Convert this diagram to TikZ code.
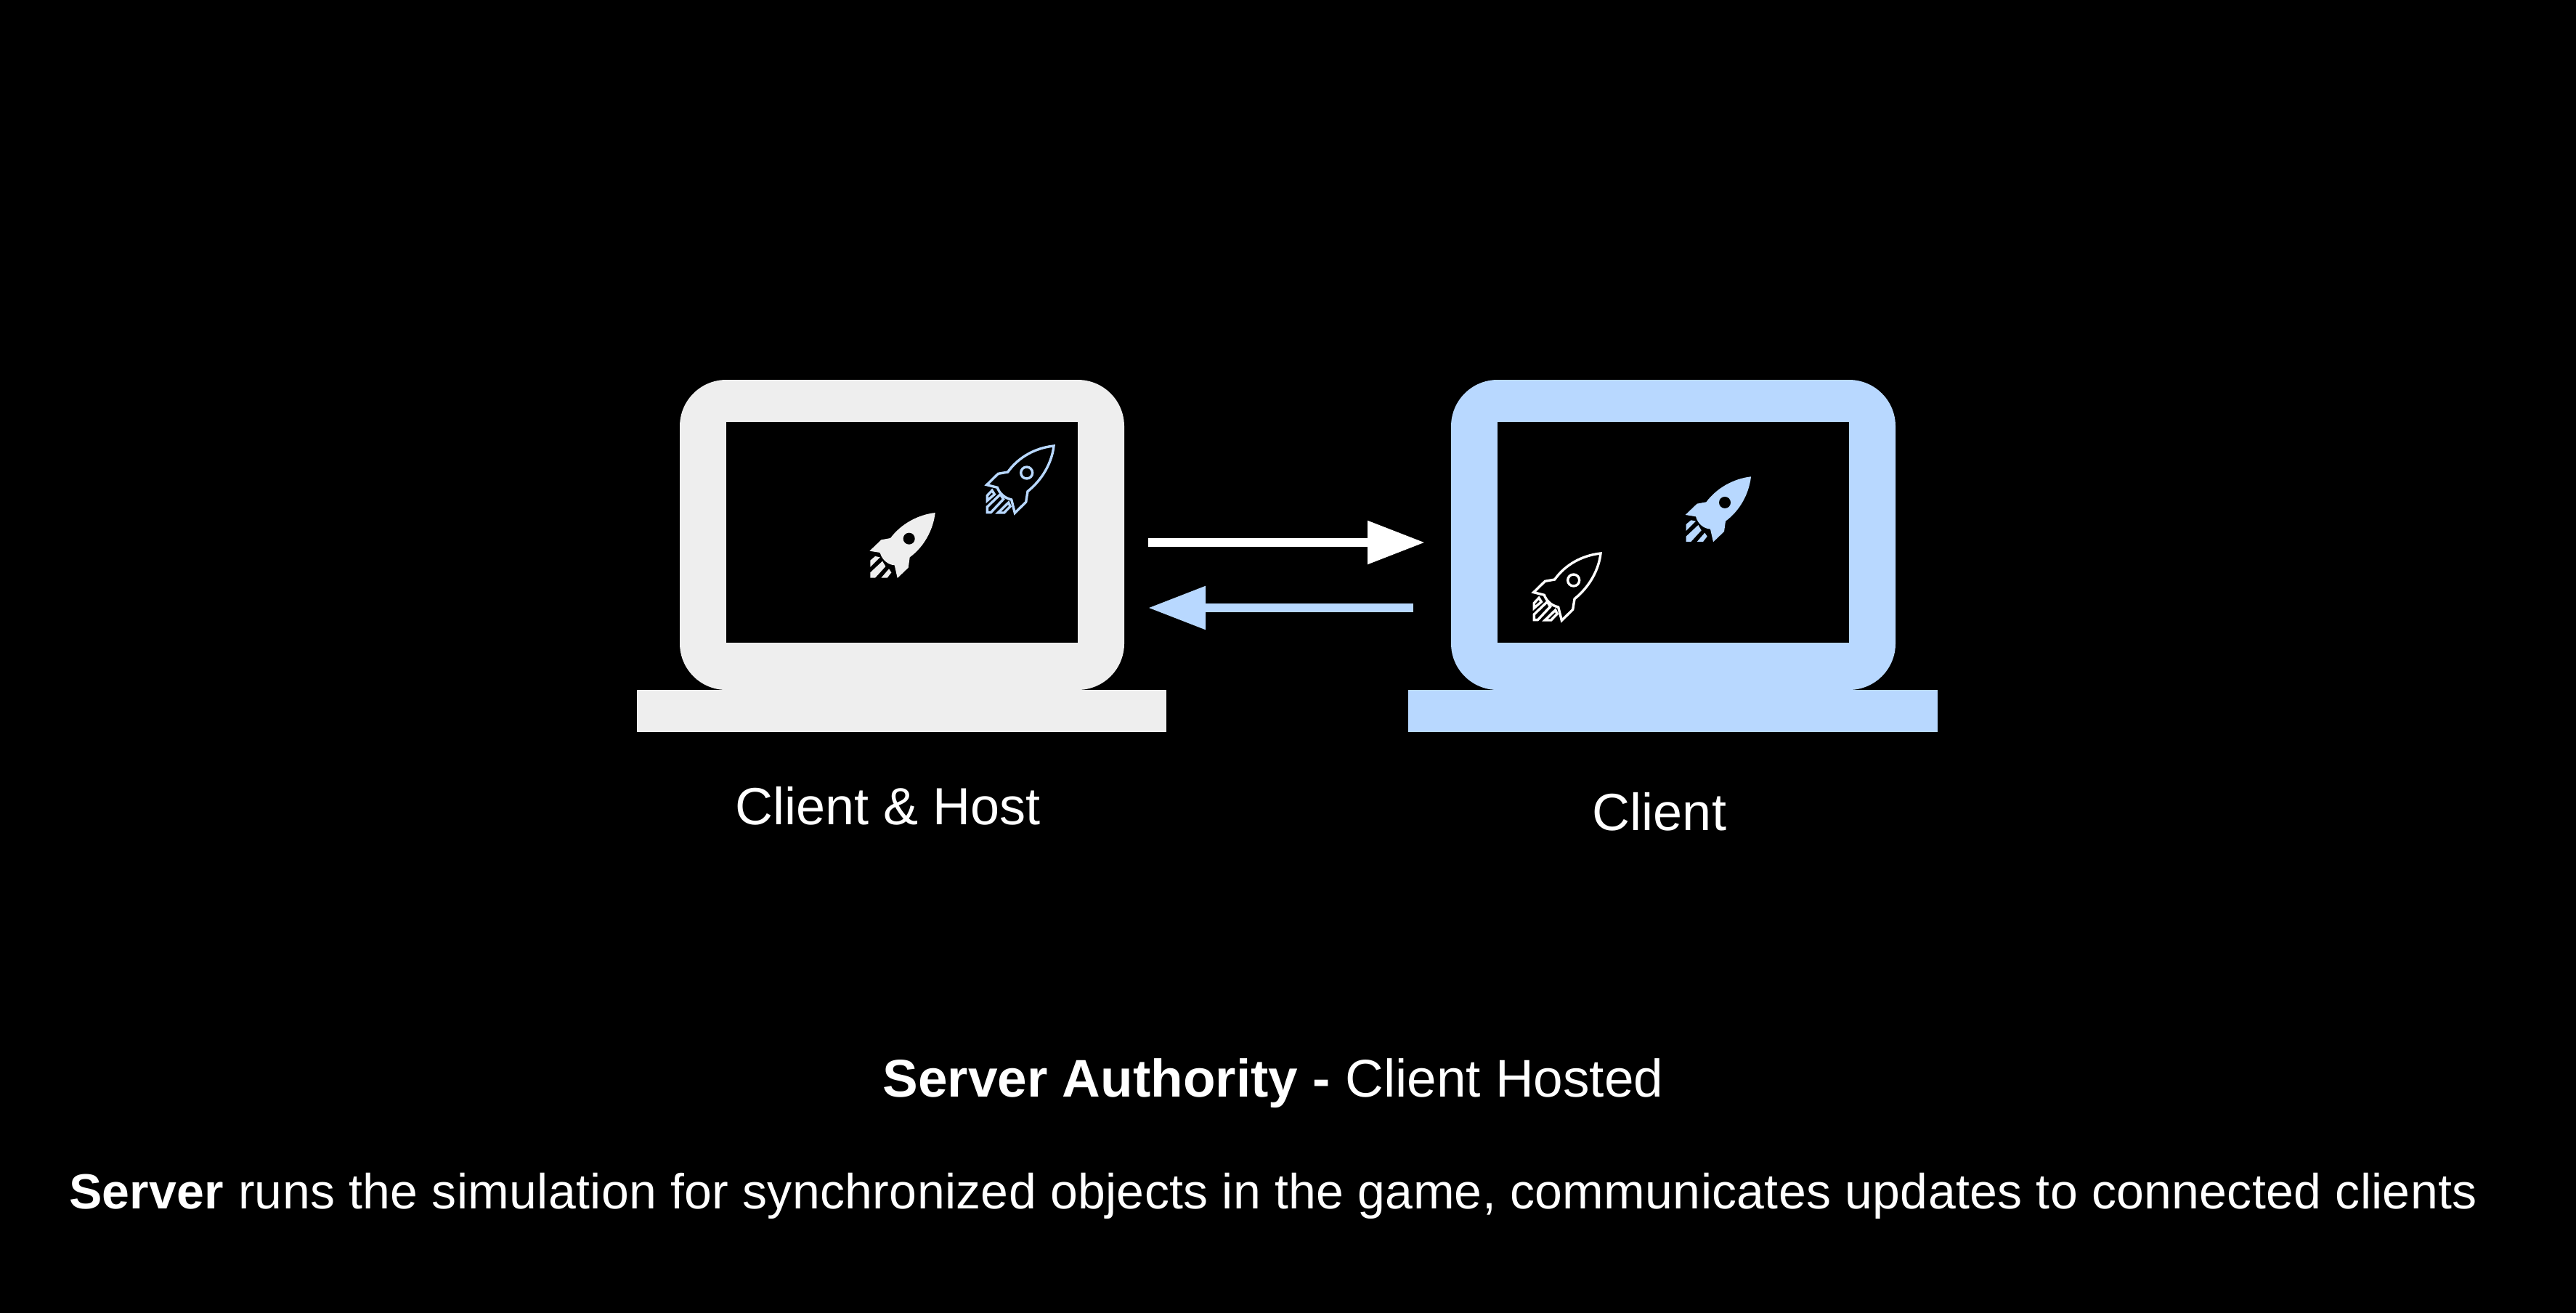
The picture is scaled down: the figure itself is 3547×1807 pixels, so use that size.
\documentclass[tikz,border=0pt]{standalone}
\usepackage{fontspec}
\setmainfont{Liberation Sans}
\newfontfamily\descfont[LetterSpace=0.5]{Liberation Sans}
\usetikzlibrary{arrows.meta}
\definecolor{greyc}{HTML}{EEEEEE}
\definecolor{bluec}{HTML}{B8D8FF}
\tikzset{
  label text/.style={text=white,inner sep=0pt,anchor=base,font=\fontsize{72}{84}\selectfont},
  title text/.style={text=white,inner sep=0pt,anchor=base,font=\fontsize{73}{84}\selectfont},
  desc text/.style={text=white,inner sep=0pt,anchor=base,font=\descfont\fontsize{68}{80}\selectfont},
  link/.style={line width=12pt,-{Triangle[length=79pt,width=57pt]}},
}
\newcommand{\rocketbody}{(0,0) .. controls (-70,8) and (-140,45) .. (-185,105)
  -- (-223,112) -- (-271,158) -- (-228,165) .. controls (-220,195) and (-195,215) .. (-168,217)
  -- (-156,270) -- (-111,227) -- (-105,184) .. controls (-45,140) and (-8,70) .. (0,0) -- cycle}
\newcommand{\filledrocket}[3]{%
  \begin{scope}[shift={(#1,#2)},x=0.3333pt,y=-0.3333pt]
    \fill[#3] \rocketbody;
    \fill[#3] (-268,197) -- (-248,180) -- (-228,184) -- (-268,224) -- cycle;
    \fill[#3] (-268,247) -- (-218,200) -- (-205,222) -- (-248,269) -- (-268,269) -- cycle;
    \fill[#3] (-223,269) -- (-191,232) -- (-181,247) -- (-198,269) -- cycle;
    \fill[black] (-108,107) circle[radius=24];
  \end{scope}}
\newcommand{\outlinerocket}[3]{%
  \begin{scope}[shift={(#1,#2)},x=0.3333pt,y=-0.3333pt]
    \begin{scope}[line width=3.4pt,draw=#3,line join=miter]
      \draw (0,0) .. controls (-75,8) and (-145,45) .. (-190,108)
        -- (-230,115) -- (-277,161) -- (-233,172) .. controls (-225,195) and (-205,215) .. (-175,222)
        -- (-161,277) -- (-115,232) -- (-108,188) .. controls (-48,140) and (-8,70) .. (0,0) -- cycle;
      \draw (-275,205) -- (-275,226) -- (-245,200) -- (-255,184) -- cycle;
      \draw (-275,252) -- (-221,200) -- (-208,220) -- (-260,275) -- (-275,275) -- cycle;
      \draw (-230,276) -- (-187,234) -- (-180,250) -- (-205,276) -- cycle;
      \draw (-112,111) circle[radius=24];
    \end{scope}
  \end{scope}}
\begin{document}
\begin{tikzpicture}[x=1pt,y=-1pt]
  \useasboundingbox (0,0) rectangle (3547,1807);
  \fill[black] (-6,-6) rectangle (3553,1813);
  % left laptop
  \fill[greyc,rounded corners=64pt] (936,523) rectangle (1548,950);
  \fill[black] (1000,581) rectangle (1484,885);
  \fill[greyc] (877,950) rectangle (1606,1008);
  % right laptop
  \fill[bluec,rounded corners=64pt] (1998,523) rectangle (2610,950);
  \fill[black] (2062,581) rectangle (2546,885);
  \fill[bluec] (1939,950) rectangle (2668,1008);
  % rockets
  \filledrocket{1287.7}{706}{greyc}
  \outlinerocket{1451}{614}{bluec}
  \filledrocket{2411}{656.3}{bluec}
  \outlinerocket{2204}{762}{white}
  % arrows
  \coordinate (hostout) at (1581,747);
  \coordinate (clientin) at (1962,747);
  \coordinate (clientout) at (1946,837);
  \coordinate (hostin) at (1581,837);
  \draw[link,draw=white,fill=white] (hostout) -- (clientin);
  \draw[link,draw=bluec,fill=bluec] (clientout) -- (hostin);
  % labels
  \node[label text] (hostlabel) at (1223,1135) {Client \& Host};
  \node[label text] (clientlabel) at (2285,1143) {Client};
  \node[title text] (title) at (1753,1510) {\textbf{Server Authority -} Client Hosted};
  \node[desc text] (desc) at (1753,1664) {\textbf{Server} runs the simulation for synchronized objects in the game, communicates updates to connected clients};
\end{tikzpicture}
\end{document}
